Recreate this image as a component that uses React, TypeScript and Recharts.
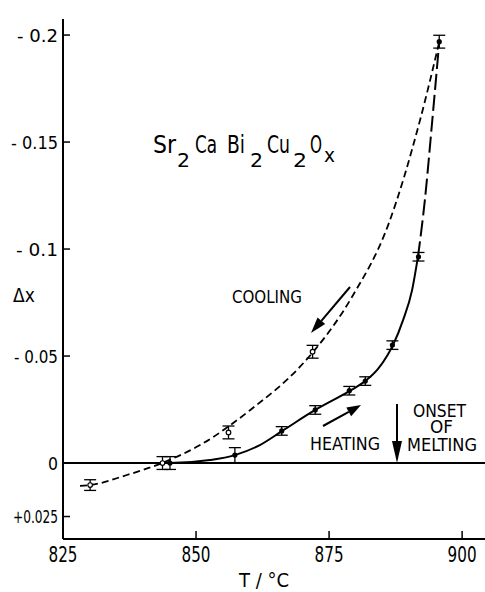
import { ComposedChart, Line, Scatter, ErrorBar, XAxis, YAxis, ReferenceLine } from 'recharts';

const FONT = '"DejaVu Sans Condensed", "Liberation Sans Narrow", "DejaVu Sans", sans-serif';

const xTicks = [825, 850, 875, 900];
const yTicks = [0.2, 0.15, 0.1, 0.05, 0, -0.025];
const yTickLabels = ['- 0.2', '- 0.15', '- 0.1', '- 0.05', '0', '+0.025'];

// fitted curves
const heatingSolidT = [825, 845, 852.6, 857.3, 862, 866.2, 872.4, 878.8, 881.8, 884.2, 886, 887, 888.9, 890.6, 891.7];
const heatingSolidV = [0, 0, 0.0014, 0.0037, 0.0084, 0.015, 0.0248, 0.0336, 0.0383, 0.044, 0.0505, 0.0551, 0.0668, 0.0808, 0.0963];
const heatingDashT = [891.7, 893.0, 894.4, 895.7];
const heatingDashV = [0.0963, 0.1229, 0.1603, 0.1967];
const coolingT = [828.2, 830.1, 837, 843.6, 850.75, 860.2, 869.5, 872, 879.3, 886.1, 892.1, 895.7];
const coolingV = [-0.0107, -0.0103, -0.0056, 0, 0.0084, 0.0248, 0.0449, 0.0519, 0.0776, 0.1112, 0.1603, 0.1967];

// measured points with error bars
const heatingPtT = [845.1, 857.3, 866.1, 872.4, 878.8, 881.8, 886.9, 891.8, 895.7];
const heatingPtV = [0, 0.0037, 0.015, 0.0248, 0.0338, 0.0383, 0.0551, 0.0964, 0.1969];
const heatingErr = [0.003, 0.0035, 0.002, 0.002, 0.002, 0.002, 0.002, 0.002, 0.003];
const coolingPtT = [830.1, 843.7, 856.1, 871.9];
const coolingPtV = [-0.0103, 0, 0.0143, 0.052];
const coolingErr = [0.0025, 0.003, 0.003, 0.003];

const zip = (ts: number[], vs: number[], es?: number[]) =>
  ts.map((t, i) => ({ t, v: vs[i], err: es ? es[i] : 0 }));

const heatingSolid = zip(heatingSolidT, heatingSolidV);
const heatingDash = zip(heatingDashT, heatingDashV);
const cooling = zip(coolingT, coolingV);
const heatingPts = zip(heatingPtT, heatingPtV, heatingErr);
const coolingPts = zip(coolingPtT, coolingPtV, coolingErr);

// narrow lettering of the original
const labelWidth: Record<string, number> = { '- 0.2': 41, '- 0.15': 47, '- 0.1': 42, '- 0.05': 44, '0': 10, '+0.025': 45 };

const YTick = (props: any) => {
  const { x, y, payload } = props;
  const label = yTickLabels[yTicks.indexOf(payload.value)];
  return (
    <g>
      <line x1={x} x2={x + 7} y1={y} y2={y} stroke="#000" strokeWidth={1.5} />
      <text x={x - 5} y={y} dy="0.36em" textAnchor="end" fontSize={18} fontFamily={FONT} fill="#000" textLength={labelWidth[label]} lengthAdjust="spacingAndGlyphs">
        {label}
      </text>
    </g>
  );
};

const XTick = (props: any) => {
  const { x, y, payload } = props;
  return (
    <g>
      <line x1={x} x2={x} y1={y} y2={y - 8} stroke="#000" strokeWidth={1.5} />
      <text x={x - 14.5} y={y + 23} fontSize={21} fontFamily={FONT} fill="#000" textLength={29} lengthAdjust="spacingAndGlyphs">
        {payload.value}
      </text>
    </g>
  );
};

const openDot = (p: any) => <circle cx={p.cx} cy={p.cy} r={2.3} fill="#fff" stroke="#000" strokeWidth={1.2} />;
const fullDot = (p: any) => <circle cx={p.cx} cy={p.cy} r={2.6} fill="#000" />;

function Arrow({ x1, y1, x2, y2, hl, hw }: { x1: number; y1: number; x2: number; y2: number; hl: number; hw: number }) {
  const dx = x2 - x1;
  const dy = y2 - y1;
  const len = Math.hypot(dx, dy);
  const ux = dx / len;
  const uy = dy / len;
  const bx = x2 - ux * hl;
  const by = y2 - uy * hl;
  const pts = `${x2},${y2} ${bx - uy * hw},${by + ux * hw} ${bx + uy * hw},${by - ux * hw}`;
  return (
    <g>
      <line x1={x1} y1={y1} x2={bx} y2={by} stroke="#000" strokeWidth={2} />
      <polygon points={pts} fill="#000" />
    </g>
  );
}

export default function App() {
  return (
    <div style={{ position: 'absolute', left: 0, top: 0, width: 485, height: 592, background: '#fff' }}>
      <ComposedChart width={485} height={592} margin={{ top: 19, right: 0, left: 0, bottom: 0 }}>
        <XAxis
          type="number"
          dataKey="t"
          domain={[825, 904.3]}
          ticks={xTicks}
          allowDataOverflow
          height={53}
          tickSize={0}
          tickMargin={0}
          tickLine={false}
          axisLine={{ stroke: '#000', strokeWidth: 2 }}
          tick={<XTick />}
        />
        <YAxis
          type="number"
          dataKey="v"
          domain={[-0.0355, 0.2075]}
          ticks={yTicks}
          allowDataOverflow
          width={63}
          tickSize={0}
          tickMargin={0}
          tickLine={false}
          axisLine={{ stroke: '#000', strokeWidth: 2 }}
          tick={<YTick />}
        />
        <ReferenceLine y={0} stroke="#000" strokeWidth={2} />
        <Line data={cooling} dataKey="v" type="monotone" stroke="#000" strokeWidth={1.8} strokeDasharray="7 4" dot={false} isAnimationActive={false} />
        <Line data={heatingSolid} dataKey="v" type="monotone" stroke="#000" strokeWidth={2} dot={false} isAnimationActive={false} />
        <Line data={heatingDash} dataKey="v" type="monotone" stroke="#000" strokeWidth={2} strokeDasharray="16 5" dot={false} isAnimationActive={false} />
        <Scatter data={coolingPts} dataKey="v" shape={openDot} isAnimationActive={false}>
          <ErrorBar dataKey="err" direction="y" width={6} stroke="#000" strokeWidth={1.3} isAnimationActive={false} />
        </Scatter>
        <Scatter data={heatingPts} dataKey="v" shape={fullDot} isAnimationActive={false}>
          <ErrorBar dataKey="err" direction="y" width={6} stroke="#000" strokeWidth={1.3} isAnimationActive={false} />
        </Scatter>
      </ComposedChart>
      <svg width={485} height={592} style={{ position: 'absolute', left: 0, top: 0, pointerEvents: 'none' }} fontFamily={FONT} fill="#000">
        <text x={13} y={302} fontSize={19}>Δx</text>
        <text x={264} y={587} fontSize={20} textAnchor="middle">T / °C</text>
        <text fontSize={24}>
          <tspan x={153} y={153} textLength={23} lengthAdjust="spacingAndGlyphs">Sr</tspan>
          <tspan x={177} y={167} fontSize={19} textLength={13} lengthAdjust="spacingAndGlyphs">2</tspan>
          <tspan x={195} y={153} textLength={22} lengthAdjust="spacingAndGlyphs">Ca</tspan>
          <tspan x={227} y={153} textLength={18} lengthAdjust="spacingAndGlyphs">Bi</tspan>
          <tspan x={250} y={167} fontSize={19} textLength={13} lengthAdjust="spacingAndGlyphs">2</tspan>
          <tspan x={267} y={153} textLength={23} lengthAdjust="spacingAndGlyphs">Cu</tspan>
          <tspan x={293} y={167} fontSize={19} textLength={14} lengthAdjust="spacingAndGlyphs">2</tspan>
          <tspan x={310} y={153} textLength={12} lengthAdjust="spacingAndGlyphs">O</tspan>
          <tspan x={324} y={162} fontSize={19} textLength={11} lengthAdjust="spacingAndGlyphs">x</tspan>
        </text>
        <g fontSize={18}>
          <text x={232} y={303} textLength={70} lengthAdjust="spacingAndGlyphs">COOLING</text>
          <text x={310} y={450} textLength={70} lengthAdjust="spacingAndGlyphs">HEATING</text>
          <text>
            <tspan x={413} y={417} textLength={53} lengthAdjust="spacingAndGlyphs">ONSET</tspan>
            <tspan x={430} y={433} textLength={23} lengthAdjust="spacingAndGlyphs">OF</tspan>
            <tspan x={407} y={451} textLength={70} lengthAdjust="spacingAndGlyphs">MELTING</tspan>
          </text>
        </g>
        <Arrow x1={350} y1={287} x2={311} y2={333} hl={16} hw={5} />
        <Arrow x1={323} y1={426} x2={361} y2={405} hl={14} hw={5} />
        <Arrow x1={397} y1={404} x2={397} y2={463} hl={22} hw={5} />
      </svg>
    </div>
  );
}
